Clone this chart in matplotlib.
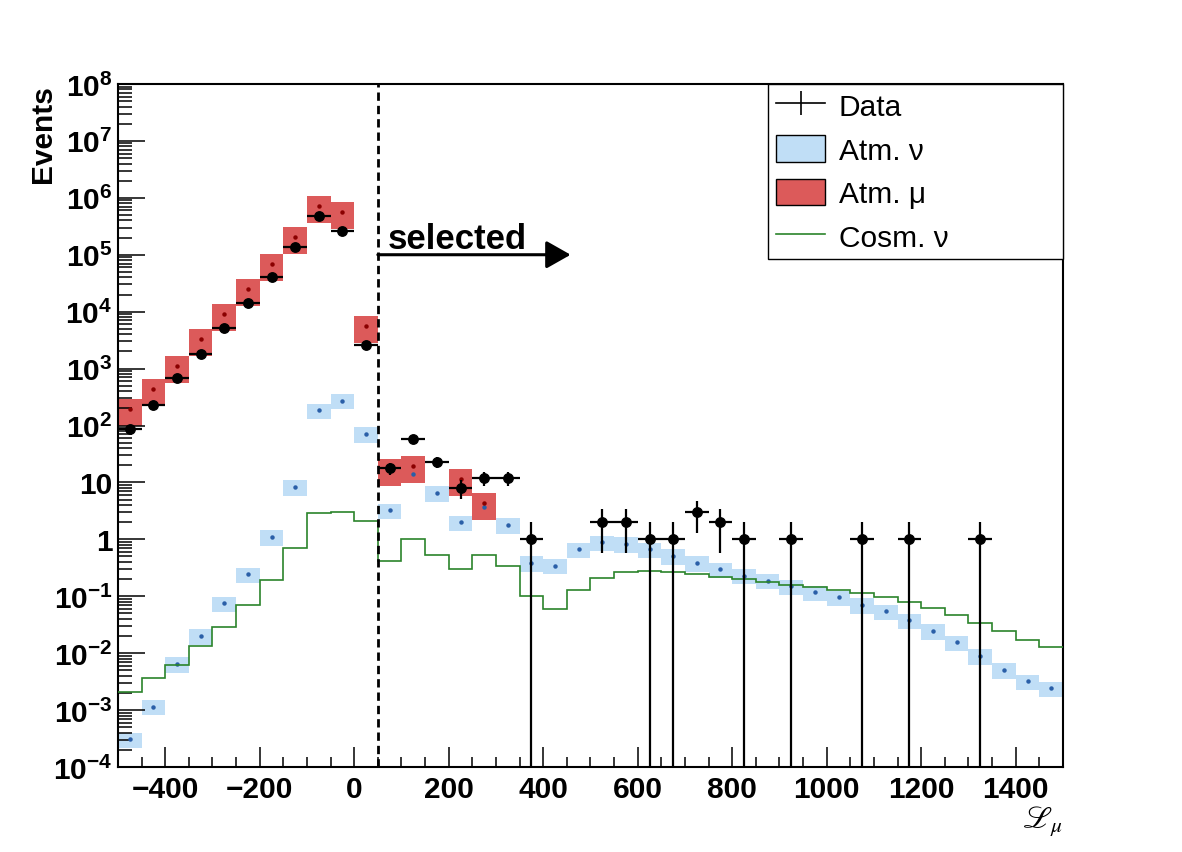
import numpy as np
import matplotlib
matplotlib.use("Agg")
from matplotlib import pyplot as plt
from matplotlib.lines import Line2D
from matplotlib.patches import Patch
from matplotlib.ticker import FixedLocator, MultipleLocator

plt.rcParams['font.family'] = ['Liberation Sans', 'DejaVu Sans']
plt.rcParams['mathtext.fontset'] = 'custom'
plt.rcParams['mathtext.rm'] = 'Liberation Sans:bold'
plt.rcParams['mathtext.it'] = 'Liberation Sans:bold:italic'
plt.rcParams['mathtext.bf'] = 'Liberation Sans:bold'

# binning of L_mu: 40 bins of width 50 from -500 to 1500
edges = np.arange(-500, 1501, 50)
centers = edges[:-1] + 25

data_counts = np.array([88, 232, 670, 1800, 5200, 14200, 41000, 135000, 485000, 265000,
                        2600, 18, 58, 23, 8, 12, 12, 1, 0, 0,
                        2, 2, 1, 1, 3, 2, 1, 0, 1, 0,
                        0, 1, 0, 1, 0, 0, 1, 0, 0, 0])

atm_mu = np.array([195, 440, 1120, 3300, 9100, 25000, 69000, 203000, 728000, 557000,
                   5700, 17, 19.7, 0, 11.5, 4.4, 0, 0, 0, 0,
                   0, 0, 0, 0, 0, 0, 0, 0, 0, 0,
                   0, 0, 0, 0, 0, 0, 0, 0, 0, 0])

atm_nu = np.array([3.1e-4, 1.15e-3, 6.5e-3, 0.0203, 0.0753, 0.243, 1.11, 8.4, 187, 273,
                   71, 3.24, 14, 6.6, 2.0, 3.66, 1.79, 0.385, 0.345, 0.676,
                   0.887, 0.83, 0.676, 0.516, 0.385, 0.301, 0.23, 0.188, 0.150, 0.117,
                   0.096, 0.071, 0.0544, 0.0383, 0.0248, 0.0155, 0.0090, 0.0051, 0.0032, 0.00244])

cosm_nu = np.array([0.00206, 0.00367, 0.00628, 0.0132, 0.0292, 0.0711, 0.195, 0.705, 2.87, 2.98,
                    2.07, 0.412, 1.01, 0.531, 0.301, 0.537, 0.345, 0.100, 0.0597, 0.130,
                    0.209, 0.270, 0.281, 0.264, 0.246, 0.221, 0.201, 0.176, 0.158, 0.144,
                    0.129, 0.113, 0.0984, 0.0784, 0.0622, 0.0475, 0.0339, 0.0243, 0.0173, 0.0127])

mu_rel_err = 0.5
nu_rel_err = 0.3
cut_value = 50

ytick_vals = [10.0 ** k for k in range(-4, 9)]
ytick_labels = ['$10^{-4}$', '$10^{-3}$', '$10^{-2}$', '$10^{-1}$', '1', '10',
                '$10^{2}$', '$10^{3}$', '$10^{4}$', '$10^{5}$', '$10^{6}$', '$10^{7}$', '$10^{8}$']
xtick_vals = [-400, -200, 0, 200, 400, 600, 800, 1000, 1200, 1400]
xtick_labels = ['\u2212400', '\u2212200', '0', '200', '400', '600', '800', '1000', '1200', '1400']

blue_fill = '#c0def6'
blue_dot = '#2a5fa8'
red_fill = '#dc5a5a'
red_dot = '#8b0000'
green = '#2b842b'

fig = plt.figure(figsize=(11.82, 8.53), dpi=100)
ax = fig.add_axes([0.0998, 0.0996, 0.7995, 0.8008])
ax.set_yscale('log')

# atm nu band
m = atm_nu > 0
ax.bar(centers[m], atm_nu[m] * 2 * nu_rel_err, bottom=atm_nu[m] * (1 - nu_rel_err),
       width=50, color=blue_fill, linewidth=0, zorder=1)
ax.plot(centers[m], atm_nu[m], 'o', ms=2.2, color=blue_dot, zorder=2)

# atm mu band
m = atm_mu > 0
ax.bar(centers[m], atm_mu[m] * 2 * mu_rel_err, bottom=atm_mu[m] * (1 - mu_rel_err),
       width=50, color=red_fill, linewidth=0, zorder=1.5)
ax.plot(centers[m], atm_mu[m], 'o', ms=2.2, color=red_dot, zorder=2)

# cosmic nu
ax.stairs(cosm_nu, edges, baseline=None, color=green, lw=1.2, zorder=3)

# data
m = data_counts > 0
n = data_counts[m].astype(float)
err = np.sqrt(n)
low = np.minimum(err, n - 1e-9)
ax.errorbar(centers[m], n, yerr=[low, err], xerr=25, fmt='o', color='k', ms=6.8,
            elinewidth=1.6, capsize=0, zorder=5)

# cut line and arrow
ax.axvline(cut_value, color='k', lw=2.0, ls=(0, (3, 1.8)), zorder=4)
ax.annotate('', xy=(458, 1e5), xytext=(cut_value, 1e5),
            arrowprops=dict(arrowstyle='-|>,head_length=1.5,head_width=0.85', color='k',
                            lw=2.2, mutation_scale=10, shrinkA=0, shrinkB=0), zorder=6)
ax.text(70, 1.3e5, 'selected', fontsize=25, fontweight='bold', va='baseline', ha='left', zorder=6)

ax.set_xlim(-500, 1500)
ax.set_ylim(1e-4, 1e8)

ax.set_xticks(xtick_vals)
ax.set_xticklabels(xtick_labels, fontsize=21.5, fontweight='bold')
ax.xaxis.set_minor_locator(MultipleLocator(50))
ax.yaxis.set_major_locator(FixedLocator(ytick_vals))
ax.set_yticklabels(ytick_labels, fontsize=21.5, fontweight='bold')
ax.yaxis.set_minor_locator(FixedLocator([s * 10.0 ** k for k in range(-4, 8) for s in range(2, 10)]))
ax.yaxis.set_minor_formatter(plt.NullFormatter())

ax.tick_params(axis='x', which='major', direction='in', length=14.4, width=1.1, pad=6, top=False)
ax.tick_params(axis='x', which='minor', direction='in', length=7.2, width=1.1, top=False)
ax.tick_params(axis='y', which='major', direction='in', length=19.4, width=1.1, pad=4, right=False)
ax.tick_params(axis='y', which='minor', direction='in', length=10, width=1.1, right=False)
for s in ax.spines.values():
    s.set_linewidth(1.5)

ax.set_ylabel('Events', fontsize=21.5, fontweight='bold', loc='top')
ax.yaxis.set_label_coords(-0.065, 1.0)
ax.set_xlabel(r'$\mathscr{L}_{\mu}$', fontsize=22, loc='right', math_fontfamily='stix')
ax.xaxis.set_label_coords(1.0, -0.054)

handles = [Line2D([], [], color='k', lw=1.2, marker='|', ms=17, mew=1.2),
           Patch(facecolor=blue_fill, edgecolor='k', lw=1),
           Patch(facecolor=red_fill, edgecolor='k', lw=1),
           Line2D([], [], color=green, lw=1.2)]
labels = ['Data', 'Atm. \u03bd', 'Atm. \u03bc', 'Cosm. \u03bd']
leg = ax.legend(handles, labels, loc='upper left', bbox_to_anchor=(0.688, 0.75, 0.312, 0.25),
                mode='expand', borderaxespad=0, fontsize=21.5, fancybox=False, framealpha=1,
                edgecolor='k', borderpad=0.25, labelspacing=0.47, handlelength=1.67,
                handleheight=1.0, handletextpad=0.45)
leg.get_frame().set_linewidth(1.0)
leg.set_zorder(10)

fig.savefig('out.png', dpi=100)
